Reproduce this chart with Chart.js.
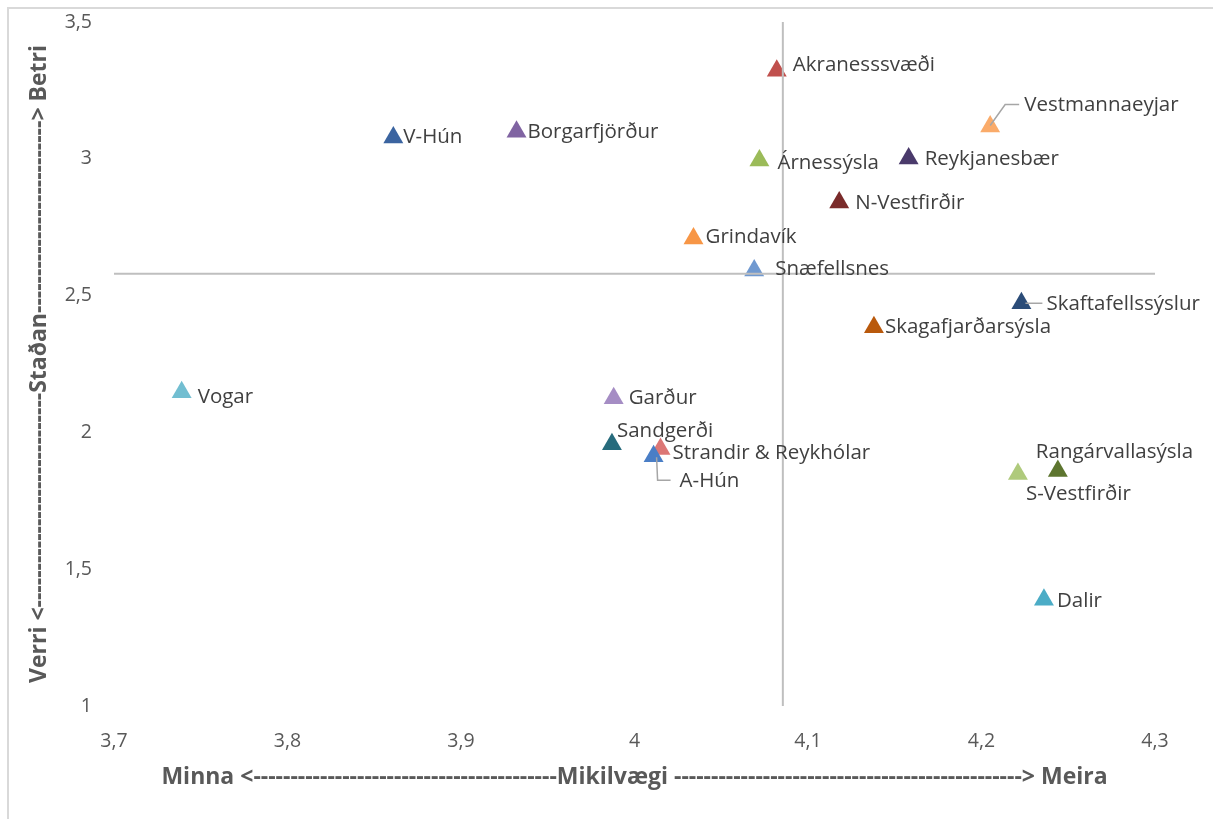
<!DOCTYPE html>
<html lang="is">
<head>
<meta charset="utf-8">
<title>Mikilvægi og staða</title>
<script src="https://cdn.jsdelivr.net/npm/chart.js@4.4.1/dist/chart.umd.min.js"></script>
<style>
  html, body { margin: 0; padding: 0; background: #fff; overflow: hidden; }
  #wrap { position: absolute; left: 0; top: 0; width: 1213px; height: 819px; }
  #frame { position: absolute; left: 7px; top: 7px; width: 1300px; height: 900px;
           border: 2px solid #D9D9D9; box-sizing: border-box; pointer-events: none; }
</style>
</head>
<body>
<div id="wrap"><canvas id="chart"></canvas></div>
<div id="frame"></div>
<script>
// Svæði, mikilvægi (x) og staða (y)
const svaedi = ['Akranesssvæði', 'Vestmannaeyjar', 'V-Hún', 'Borgarfjörður', 'Árnessýsla',
  'Reykjanesbær', 'N-Vestfirðir', 'Grindavík', 'Snæfellsnes', 'Skaftafellssýslur',
  'Skagafjarðarsýsla', 'Vogar', 'Garður', 'Sandgerði', 'Strandir & Reykhólar',
  'A-Hún', 'S-Vestfirðir', 'Rangárvallasýsla', 'Dalir'];
const mikilvaegi = [4.082, 4.205, 3.861, 3.932, 4.072,
  4.158, 4.118, 4.034, 4.069, 4.223,
  4.138, 3.739, 3.988, 3.987, 4.015,
  4.011, 4.221, 4.244, 4.236];
const stadan = [3.322, 3.118, 3.078, 3.099, 2.994,
  3.001, 2.840, 2.709, 2.592, 2.472,
  2.384, 2.147, 2.125, 1.957, 1.939,
  1.913, 1.848, 1.859, 1.388];
const litir = ['#C0504D', '#FAAB6A', '#3B64A0', '#8064A2', '#9BBB59',
  '#4A3A6B', '#7A2B2A', '#F79646', '#7099D0', '#2B4C78',
  '#B9590C', '#72BED1', '#A58DC4', '#276B7C', '#DC7776',
  '#4A7EC6', '#AFCA7C', '#5D752F', '#4BACC6'];

// Meðaltöl (krosslínur)
const medalMikilvaegi = 4.0855;
const medalStada = 2.58;

// Ásar
const xMin = 3.7, xMax = 4.3;
const yMin = 1, yMax = 3.5;

// Staðsetning merkja miðað við punkt (dx, dy) og leiðaralínur
const merkiStada = [[16, -6], [34, -21], [10, 0], [11, 0], [18, 3],
  [16, 1], [16, 1], [12, -1], [21, -1], [25, 1],
  [11, 0], [16, 5], [15, 0], [5, -13], [12, 4],
  [26, 25], [8, 20], [-22, -19], [13, 1]];
const leidarar = {
  1: [[0, -1], [15, -22], [29, -22]],
  9: [[4, 0], [21, 0]],
  15: [[3, 1], [4, 24], [17, 24]]
};

const textFont = '"Open Sans", sans-serif';

const merkiPlugin = {
  id: 'merki',
  afterDatasetsDraw(chart) {
    const meta = chart.getDatasetMeta(2);
    const ctx = chart.ctx;
    ctx.save();
    meta.data.forEach((pt, i) => {
      const lina = leidarar[i];
      if (lina) {
        ctx.strokeStyle = '#A6A6A6';
        ctx.lineWidth = 1.5;
        ctx.beginPath();
        lina.forEach((p, k) => {
          if (k === 0) ctx.moveTo(pt.x + p[0], pt.y + p[1]);
          else ctx.lineTo(pt.x + p[0], pt.y + p[1]);
        });
        ctx.stroke();
      }
      ctx.fillStyle = '#404040';
      ctx.font = '20.5px ' + textFont;
      ctx.textAlign = 'left';
      ctx.textBaseline = 'middle';
      ctx.fillText(svaedi[i], pt.x + merkiStada[i][0], pt.y + merkiStada[i][1]);
    });
    ctx.restore();
  }
};

const fmt = v => String(Math.round(v * 10) / 10).replace('.', ',');

const yTitill = 'Verri <' + '-'.repeat(29) + 'Staðan' + '-'.repeat(26) + '> Betri';
const xTitill = 'Minna <' + '-'.repeat(41) + 'Mikilvægi ' + '-'.repeat(47) + '> Meira';

const ctx = document.getElementById('chart').getContext('2d');
new Chart(ctx, {
  type: 'scatter',
  data: {
    datasets: [
      {
        data: [{ x: medalMikilvaegi, y: yMin }, { x: medalMikilvaegi, y: yMax }],
        showLine: true, borderColor: '#BFBFBF', borderWidth: 2, pointRadius: 0
      },
      {
        data: [{ x: xMin, y: medalStada }, { x: xMax, y: medalStada }],
        showLine: true, borderColor: '#BFBFBF', borderWidth: 2, pointRadius: 0
      },
      {
        data: mikilvaegi.map((x, i) => ({ x: x, y: stadan[i] })),
        pointStyle: 'triangle',
        pointRadius: 11.5,
        pointHoverRadius: 11.5,
        pointBackgroundColor: litir,
        pointBorderColor: litir,
        pointBorderWidth: 0
      }
    ]
  },
  options: {
    responsive: true,
    maintainAspectRatio: false,
    animation: false,
    layout: { padding: { top: 22, right: 58, left: 0, bottom: 0 } },
    plugins: {
      legend: { display: false },
      tooltip: { enabled: false }
    },
    scales: {
      x: {
        type: 'linear',
        min: xMin, max: xMax,
        grid: { display: false, drawTicks: false },
        border: { display: false },
        ticks: { stepSize: 0.1, padding: 24, color: '#595959',
                 font: { family: textFont, size: 19.5 }, callback: fmt },
        title: { display: true, text: xTitill, color: '#595959',
                 font: { family: textFont, size: 23, weight: 'bold' },
                 padding: { top: 0, bottom: 28 } },
        afterFit(scale) {
          scale.height = 113;
          scale.paddingLeft = 0;
          scale.paddingRight = 0;
        }
      },
      y: {
        type: 'linear',
        min: yMin, max: yMax,
        grid: { display: false, drawTicks: false },
        border: { display: false },
        ticks: { stepSize: 0.5, padding: 22, color: '#595959',
                 font: { family: textFont, size: 19.5 }, callback: fmt },
        title: { display: true, text: yTitill, color: '#595959',
                 font: { family: textFont, size: 23, weight: 'bold' },
                 padding: { top: 26, bottom: 0 } },
        afterFit(scale) {
          scale.width = 114;
          scale.paddingTop = 0;
          scale.paddingBottom = 0;
        }
      }
    }
  },
  plugins: [merkiPlugin]
});
</script>
</body>
</html>
